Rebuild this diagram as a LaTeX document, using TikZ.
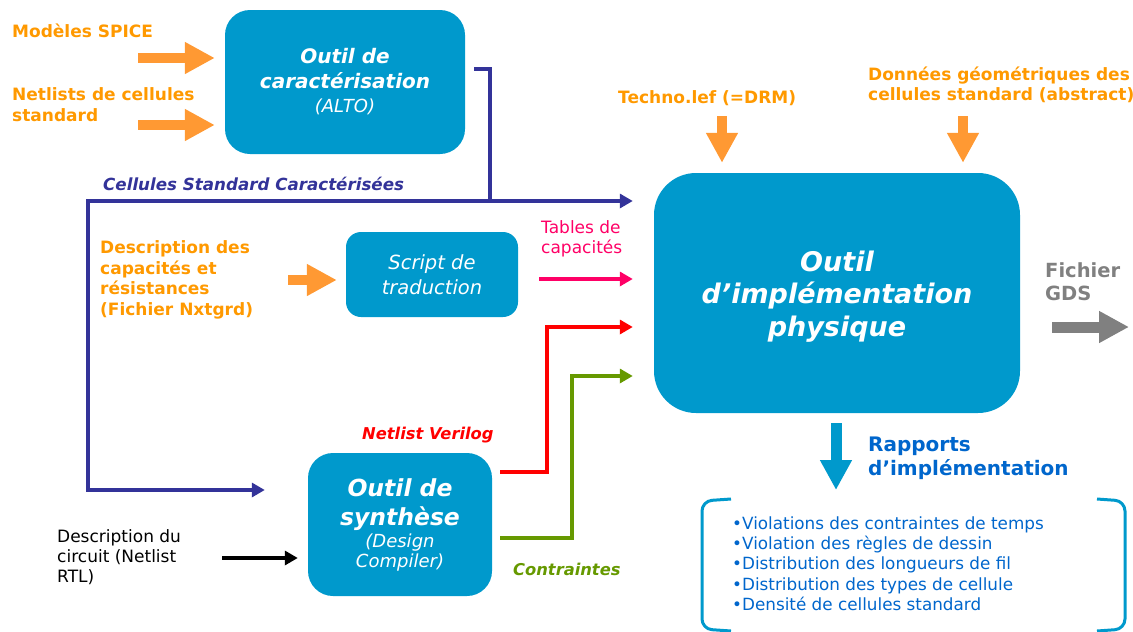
\documentclass[tikz,border=0pt]{standalone}
\usepackage{fontspec}
\setmainfont{DejaVu Sans}
\usetikzlibrary{arrows.meta,positioning}

\definecolor{boxblue}{HTML}{0099CC}
\definecolor{dkblue}{HTML}{333399}
\definecolor{arrowor}{HTML}{FF9933}
\definecolor{labor}{HTML}{FF9900}
\definecolor{pinkc}{HTML}{FF0066}
\definecolor{redc}{HTML}{FF0000}
\definecolor{greenc}{HTML}{669900}
\definecolor{grayc}{HTML}{808080}
\definecolor{rapblue}{HTML}{0066CC}

\begin{document}
\begin{tikzpicture}[x=1pt, y=-1pt,
  tool/.style={rectangle, rounded corners=25pt, fill=boxblue, text=white, align=center, inner sep=0pt},
  lab/.style={inner sep=0pt, anchor=west, align=left},
  orlab/.style={lab, text=labor, font=\bfseries\fontsize{17}{21}\selectfont},
  link/.style={line width=4pt, -{Triangle[length=13pt,width=14pt]}},
  fat/.style={line width=10pt, -{Triangle[length=30pt,width=30pt]}}]
  \useasboundingbox (0,0) rectangle (1133,632);

  % the tools
  \node[tool, minimum width=240pt, minimum height=144pt, font=\bfseries\itshape\fontsize{20}{24.5}\selectfont] (carac) at (345,82)
    {Outil de\\caractérisation\\{\mdseries\fontsize{18}{24.5}\selectfont(ALTO)}};
  \node[tool, rounded corners=15pt, minimum width=172pt, minimum height=85pt, font=\itshape\fontsize{19.5}{25}\selectfont] (script) at (432,274.5)
    {Script de\\traduction};
  \node[tool, minimum width=184pt, minimum height=143pt, font=\bfseries\itshape\fontsize{23.5}{29}\selectfont] (synth) at (400,524.5)
    {Outil de\\synthèse\\[-7pt]{\mdseries\fontsize{18}{20}\selectfont(Design}\\[-9pt]{\mdseries\fontsize{18}{20}\selectfont Compiler)}};
  \node[tool, rounded corners=42pt, minimum width=366pt, minimum height=240pt, font=\bfseries\itshape\fontsize{27}{32.5}\selectfont] (impl) at (837,293)
    {\\[-5pt]Outil\\d’implémentation\\physique};

  % labels
  \node[orlab] (spice) at (12,31) {Modèles SPICE};
  \node[orlab] (netl) at (12,104.5) {Netlists de cellules\\standard};
  \node[orlab, font=\bfseries\fontsize{17}{20.5}\selectfont] (capdesc) at (100,280) {Description des\\capacités et\\résistances\\(Fichier Nxtgrd)};
  \node[orlab] (techno) at (618,98) {Techno.lef (=DRM)};
  \node[orlab, font=\bfseries\fontsize{17}{19.5}\selectfont] (geom) at (868,85) {Données géométriques des\\cellules standard (abstract)};
  \node[lab, text=dkblue, font=\bfseries\itshape\fontsize{16.7}{20}\selectfont] (csc) at (103,184) {Cellules Standard Caractérisées};
  \node[lab, text=pinkc, font=\fontsize{17}{20}\selectfont] (tables) at (541,239) {Tables de\\capacités};
  \node[lab, text=redc, font=\bfseries\itshape\fontsize{16.3}{20}\selectfont] (verilog) at (362,435) {Netlist Verilog};
  \node[lab, text=greenc, font=\bfseries\itshape\fontsize{16.3}{20}\selectfont] (contr) at (513,569) {Contraintes};
  \node[lab, font=\fontsize{17}{20}\selectfont] (rtl) at (57,557) {Description du\\circuit (Netlist\\RTL)};
  \node[lab, text=grayc, font=\bfseries\fontsize{19.5}{23}\selectfont] (gds) at (1045,281.5) {Fichier\\GDS};
  \node[lab, text=rapblue, font=\bfseries\fontsize{20}{24}\selectfont] (rapports) at (868,458) {Rapports\\d’implémentation};
  \node[lab, text=rapblue, font=\fontsize{16.8}{20.3}\selectfont] (liste) at (732,563.5)
    {•Violations des contraintes de temps\\•Violation des règles de dessin\\•Distribution des longueurs de fil\\•Distribution des types de cellule\\•Densité de cellules standard};

  % free ends
  \coordinate (spiceIn) at (138,58);
  \coordinate (netIn) at (138,125);
  \coordinate (capIn) at (288,280);
  \coordinate (rtlIn) at (222,558);
  \coordinate (techIn) at (722,116);
  \coordinate (geomIn) at (963,116);
  \coordinate (gdsOut) at (1129,327);
  \coordinate (repOut) at (836,490);
  \coordinate (jn) at (490,201);
  \coordinate (lc) at (88,201);

  % inputs
  \draw[fat, arrowor, shorten >=10pt] (spiceIn) -- (carac.west |- spiceIn);
  \draw[fat, arrowor, shorten >=10pt] (netIn) -- (carac.west |- netIn);
  \draw[fat, arrowor, shorten >=9pt] (capIn) -- ([yshift=-5.5pt]script.west);
  \draw[fat, arrowor, shorten >=10pt] (techIn) -- (techIn |- impl.north);
  \draw[fat, arrowor, shorten >=10pt] (geomIn) -- (geomIn |- impl.north);
  \draw[link, shorten >=10pt] (rtlIn) -- ([yshift=-33.5pt]synth.west);

  % cellules standard
  \draw[dkblue, line width=4pt, shorten <=9pt] ([yshift=13pt]carac.east) -| (jn);
  \draw[link, dkblue, line cap=rect, shorten >=21pt] (lc) -- (impl.west |- lc);
  \draw[link, dkblue, line cap=rect, shorten >=43pt] (lc) |- ([yshift=34.5pt]synth.west);

  % towards the implementation tool
  \draw[link, pinkc, shorten <=21pt] ([yshift=-4.5pt]script.east) -- ([xshift=-21pt,yshift=14pt]impl.west);
  \draw[link, redc] ([xshift=8pt,yshift=52.5pt]synth.east) -| ([xshift=-107pt,yshift=-34pt]impl.west) -- ([xshift=-21pt,yshift=-34pt]impl.west);
  \draw[link, greenc] ([xshift=8pt,yshift=-13.5pt]synth.east) -| ([xshift=-82pt,yshift=-83pt]impl.west) -- ([xshift=-21pt,yshift=-83pt]impl.west);

  % outputs
  \draw[fat, grayc, line width=11pt, shorten <=32pt] ([yshift=-34pt]impl.east) -- (gdsOut);
  \draw[fat, boxblue, line width=11pt, shorten <=10pt] ([xshift=-1pt]impl.south) -- (repOut);

  % brackets round the reports
  \draw[boxblue, line width=3pt, rounded corners=10pt] (731,499) -- (702,501) -- (702,629) -- (731,631);
  \draw[boxblue, line width=3pt, rounded corners=10pt] (1097,499) -- (1125,501) -- (1125,629) -- (1097,631);
\end{tikzpicture}
\end{document}
